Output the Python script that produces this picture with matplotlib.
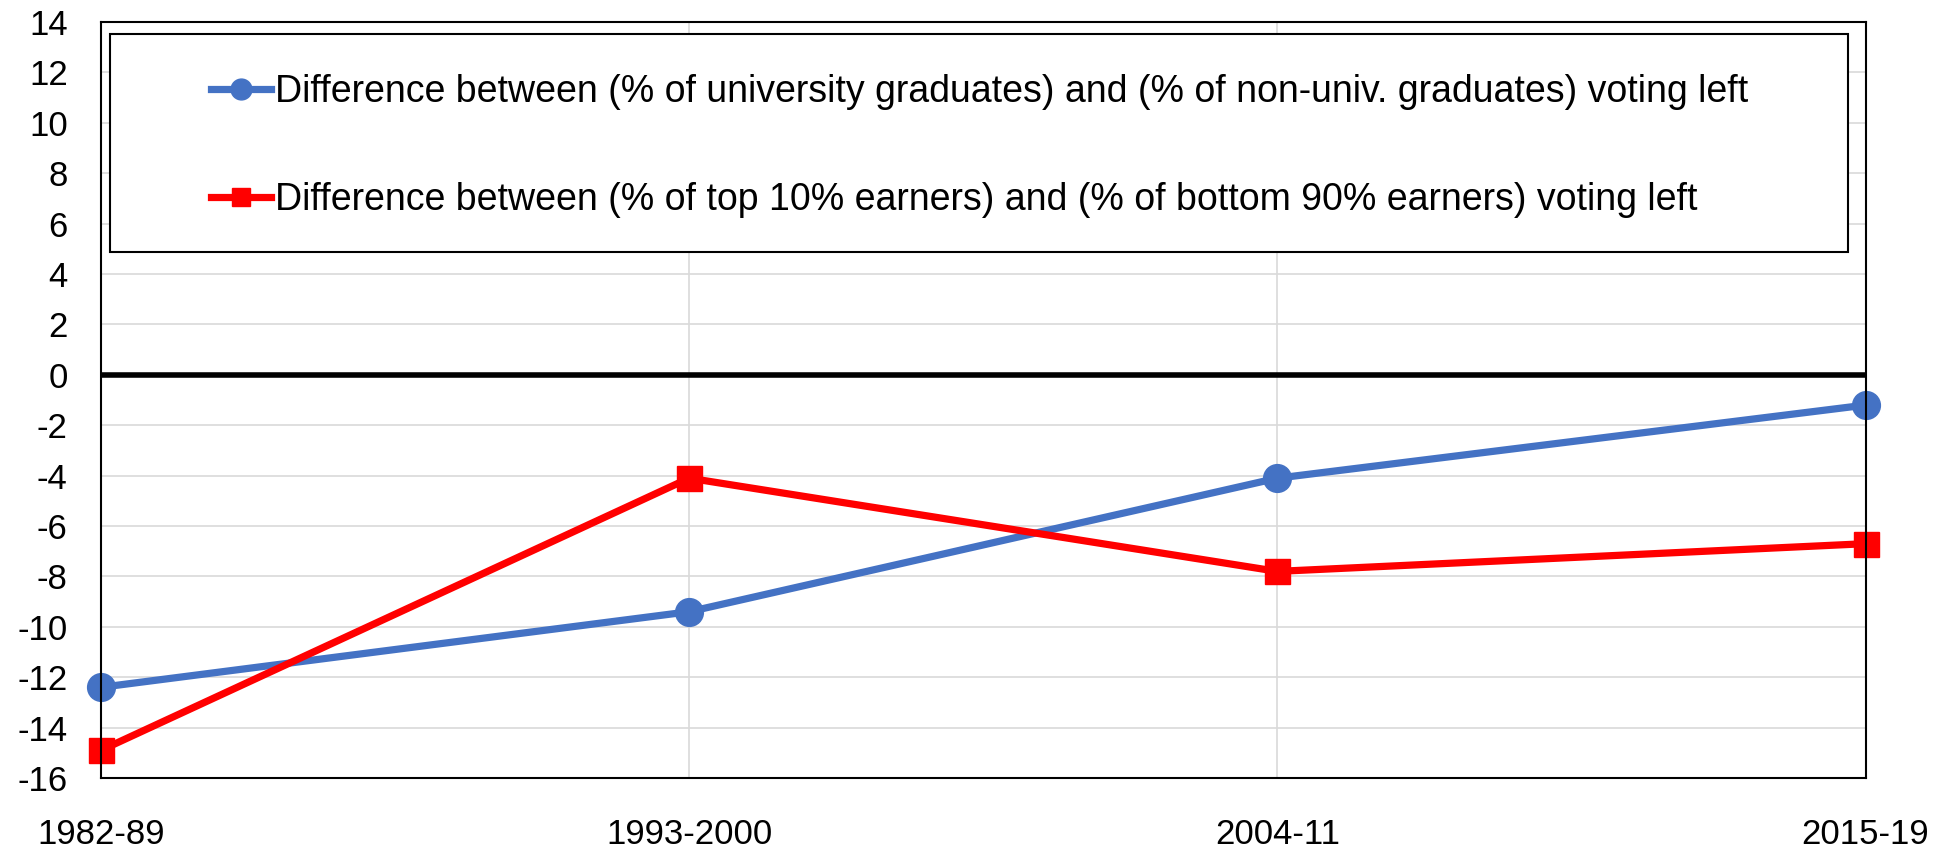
import matplotlib
matplotlib.use("Agg")
import matplotlib.pyplot as plt
from matplotlib.patches import Rectangle

# Periods and values
periods = ["1982-89", "1993-2000", "2004-11", "2015-19"]
univ_diff = [-12.4, -9.4, -4.1, -1.2]
top10_diff = [-14.9, -4.1, -7.8, -6.7]

univ_label = "Difference between (% of university graduates) and (% of non-univ. graduates) voting left"
top10_label = "Difference between (% of top 10% earners) and (% of bottom 90% earners) voting left"

yticks = list(range(-16, 15, 2))

plt.rcParams['font.family'] = ['Liberation Sans', 'DejaVu Sans']
plt.rcParams['axes.unicode_minus'] = False

fig = plt.figure(figsize=(19.53, 8.49), dpi=100)
ax = fig.add_axes([0.0517, 0.0836, 0.9035, 0.8904])

x = list(range(len(periods)))
ax.plot(x, univ_diff, color='#4472C4', lw=5.2, marker='o', ms=20, zorder=6,
        clip_on=False, label=univ_label)
ax.plot(x, top10_diff, color='#FF0000', lw=5.2, marker='s', ms=18, zorder=6,
        clip_on=False, label=top10_label)
ax.axhline(0, color='black', lw=4, zorder=5)

ax.set_xlim(0, 3)
ax.set_ylim(-16, 14)
ax.set_xticks(x)
ax.set_xticklabels(periods)
ax.set_yticks(yticks)
ax.tick_params(axis='both', length=0, labelsize=25)
ax.tick_params(axis='x', pad=29)
ax.tick_params(axis='y', pad=24)

ax.grid(True, color='#d9d9d9', lw=1.2, zorder=0)
ax.set_axisbelow(True)
for s in ax.spines.values():
    s.set_linewidth(1.5)
    s.set_color('black')
    s.set_zorder(7)

# legend box
ax.add_patch(Rectangle((0.0051, 0.6958), 0.9847, 0.2884, transform=ax.transAxes,
                       facecolor='white', edgecolor='black', lw=1.5, zorder=8))
leg = ax.legend(loc='center', bbox_to_anchor=(0.498, 0.836), frameon=False, fontsize=27,
                handlelength=1.6, handletextpad=0.1, labelspacing=1.93, markerscale=0.75)
leg.set_zorder(9)

fig.savefig("out.png", dpi=100)
